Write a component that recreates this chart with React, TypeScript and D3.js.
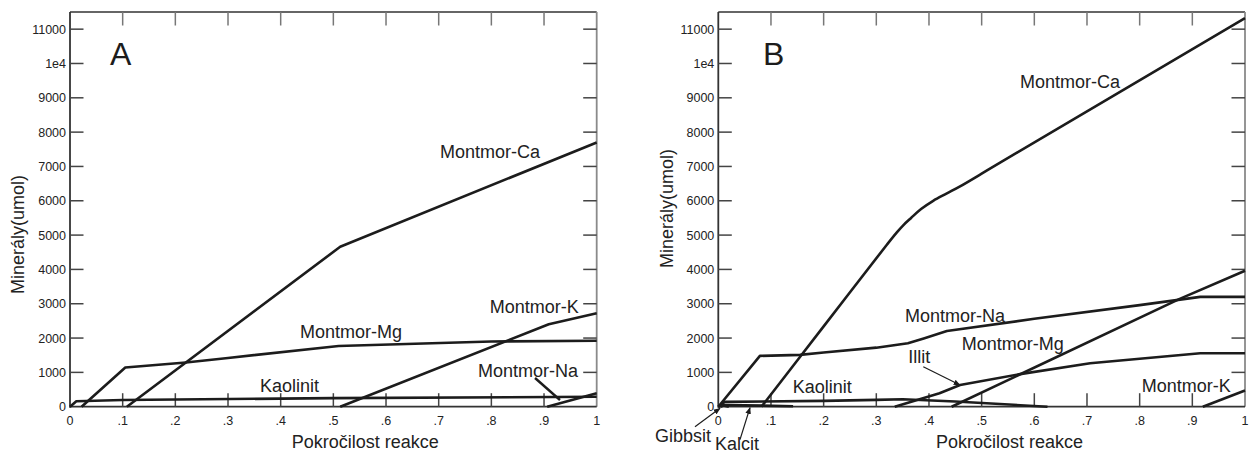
import React from "react";
import * as d3 from "d3";

type Pt = [number, number];

// ---- shared axis data ----
const xTickValues = [0, 0.1, 0.2, 0.3, 0.4, 0.5, 0.6, 0.7, 0.8, 0.9, 1];
const xTickLabels = ["0", ".1", ".2", ".3", ".4", ".5", ".6", ".7", ".8", ".9", "1"];
const yTickValues = [0, 1000, 2000, 3000, 4000, 5000, 6000, 7000, 8000, 9000, 10000, 11000];
const yTickLabels = ["0", "1000", "2000", "3000", "4000", "5000", "6000", "7000", "8000", "9000", "1e4", "11000"];
const xTitle = "Pokročilost reakce";
const yTitle = "Minerály(umol)";

// ---- panel A series (x = reaction progress, y = umol) ----
const aMontmorCa: Pt[] = [[0.108, 0], [0.513, 4660], [1, 7700]];
const aMontmorMg: Pt[] = [[0.022, 0], [0.105, 1140], [0.22, 1290], [0.3, 1420], [0.51, 1770], [0.8, 1900], [1, 1920]];
const aKaolinit: Pt[] = [[0, 0], [0.012, 160], [0.1, 195], [0.5, 250], [1, 290]];
const aMontmorK: Pt[] = [[0.513, 0], [0.909, 2400], [1, 2720]];
const aMontmorNa: Pt[] = [[0.906, 0], [1, 390]];

// ---- panel B series ----
const bMontmorCa: Pt[] = [[0.082, 0], [0.2, 2340], [0.32, 4720], [0.339, 5080], [0.352, 5300], [0.366, 5500], [0.385, 5760], [0.408, 6000], [0.434, 6215], [0.459, 6420], [0.5, 6790], [0.535, 7110], [1, 11320]];
const bMontmorNa: Pt[] = [[0, 0], [0.079, 1480], [0.155, 1510], [0.2, 1580], [0.3, 1720], [0.36, 1850], [0.39, 1990], [0.434, 2207], [0.6, 2560], [0.8, 2960], [0.915, 3200], [1, 3200]];
const bMontmorMg: Pt[] = [[0.443, 0], [0.876, 3140], [1, 3960]];
const bIllit: Pt[] = [[0.335, 0], [0.42, 390], [0.459, 630], [0.573, 950], [0.706, 1265], [0.915, 1556], [1, 1556]];
const bMontmorK: Pt[] = [[0.92, 0], [1, 470]];
const bKaolinit: Pt[] = [[0, 0], [0.012, 140], [0.2, 170], [0.3, 200], [0.35, 215], [0.45, 150], [0.625, 0]];
const bKalcit: Pt[] = [[0.004, 0], [0.012, 50], [0.142, 15]];
const bGibbsit: Pt[] = [[0, 0], [0.008, 40], [0.02, 0]];

// ---- labels: [text, x value, y value] ----
type Lbl = { text: string; x: number; y: number };
const aLabels: Lbl[] = [
  { text: "Montmor-Ca", x: 0.7025, y: 7247 },
  { text: "Montmor-Mg", x: 0.4367, y: 2002 },
  { text: "Montmor-K", x: 0.797, y: 2730 },
  { text: "Montmor-Na", x: 0.7746, y: 874 },
  { text: "Kaolinit", x: 0.3607, y: 437 },
];
const bLabels: Lbl[] = [
  { text: "Montmor-Ca", x: 0.5728, y: 9277 },
  { text: "Montmor-Na", x: 0.3545, y: 2477 },
  { text: "Montmor-Mg", x: 0.4621, y: 1652 },
  { text: "Illit", x: 0.3607, y: 1265 },
  { text: "Kaolinit", x: 0.1413, y: 385 },
  { text: "Montmor-K", x: 0.8039, y: 437 },
  { text: "Gibbsit", x: -0.1202, y: -1020 },
  { text: "Kalcit", x: -0.0063, y: -1260 },
];
type Ptr = { from: Pt; to: Pt; arrow: boolean };
const aPointers: Ptr[] = [{ from: [0.8829, 836], to: [0.9303, 195], arrow: false }];
const bPointers: Ptr[] = [
  { from: [0.3892, 1165], to: [0.4589, 630], arrow: true },
  { from: [-0.0443, -583], to: [0.0032, -47], arrow: true },
  { from: [0.0412, -960], to: [0.0602, -29], arrow: true },
];

const FONT = "'Liberation Sans', Arial, Helvetica, sans-serif";
const INK = "#1c1c1c";
const TXT = "#222";

type PanelProps = {
  left: number;
  right: number;
  letter: string;
  letterPos: Pt;
  series: Pt[][];
  smooth: boolean[];
  labels: Lbl[];
  pointers: Ptr[];
  yTitleCenter: number;
  yTitleX: number;
  xTitleStart: number;
  id: string;
};

const TOP = 12;
const BOTTOM = 406.7;

function Panel(p: PanelProps) {
  const x = d3.scaleLinear().domain([0, 1]).range([p.left, p.right]);
  const y = d3.scaleLinear().domain([0, 11500]).range([BOTTOM, TOP]);
  const lineFor = (smooth: boolean) =>
    d3
      .line<Pt>()
      .x((d) => x(d[0]))
      .y((d) => y(d[1]))
      .curve(smooth ? d3.curveCatmullRom.alpha(0.5) : d3.curveLinear);
  const tickLen = 13.5;
  return (
    <g fontFamily={FONT}>
      {/* frame */}
      <line x1={p.left} x2={p.right} y1={TOP} y2={TOP} stroke="#333" strokeWidth={1.5} />
      <line x1={p.right} x2={p.right} y1={TOP} y2={BOTTOM} stroke="#8a8a8a" strokeWidth={1.8} />
      <line x1={p.left} x2={p.left} y1={TOP} y2={BOTTOM + 1} stroke="#333" strokeWidth={1.8} />
      <line x1={p.left} x2={p.right} y1={BOTTOM} y2={BOTTOM} stroke="#333" strokeWidth={1.8} />
      {/* x ticks */}
      {xTickValues.map((v, i) => (
        <g key={"xt" + i}>
          {v > 0 && v < 1 && (
            <>
              <line x1={x(v)} x2={x(v)} y1={BOTTOM} y2={BOTTOM - tickLen} stroke="#444" strokeWidth={1.5} />
              <line x1={x(v)} x2={x(v)} y1={TOP} y2={TOP + tickLen} stroke="#777" strokeWidth={1.5} />
            </>
          )}
          <text x={x(v)} y={424.5} textAnchor="middle" fontSize={12.5} fill={TXT}>
            {xTickLabels[i]}
          </text>
        </g>
      ))}
      {/* y ticks */}
      {yTickValues.map((v, i) => (
        <g key={"yt" + i}>
          {v > 0 && (
            <>
              <line x1={p.left} x2={p.left + tickLen} y1={y(v)} y2={y(v)} stroke="#444" strokeWidth={1.5} />
              <line x1={p.right} x2={p.right - tickLen} y1={y(v)} y2={y(v)} stroke="#444" strokeWidth={1.5} />
            </>
          )}
          <text x={p.left - 4} y={y(v)} dy="0.36em" textAnchor="end" fontSize={12.5} fill={TXT}>
            {yTickLabels[i]}
          </text>
        </g>
      ))}
      {/* titles */}
      <text x={p.xTitleStart} y={448} fontSize={18} fill={TXT}>
        {xTitle}
      </text>
      <text
        transform={`translate(${p.yTitleX},${p.yTitleCenter}) rotate(-90)`}
        textAnchor="middle"
        fontSize={18}
        fill={TXT}
      >
        {yTitle}
      </text>
      <text x={x(p.letterPos[0])} y={y(p.letterPos[1])} fontSize={32} fill={INK}>
        {p.letter}
      </text>
      {/* series */}
      {p.series.map((s, i) => (
        <path
          key={"s" + i}
          d={lineFor(p.smooth[i])(s) || ""}
          fill="none"
          stroke={INK}
          strokeWidth={2.6}
          strokeLinejoin="round"
        />
      ))}
      {/* labels */}
      {p.labels.map((l, i) => (
        <text key={"l" + i} x={x(l.x)} y={y(l.y)} fontSize={18} fill={TXT}>
          {l.text}
        </text>
      ))}
      {p.pointers.map((pt, i) => (
        <line
          key={"p" + i}
          x1={x(pt.from[0])}
          y1={y(pt.from[1])}
          x2={x(pt.to[0])}
          y2={y(pt.to[1])}
          stroke={INK}
          strokeWidth={pt.arrow ? 1.2 : 2.4}
          markerEnd={pt.arrow ? `url(#arrow-${p.id})` : undefined}
        />
      ))}
    </g>
  );
}

export default function App() {
  return (
    <svg
      width={1252}
      height={455}
      viewBox="0 0 1252 455"
      style={{ position: "absolute", left: 0, top: 0, background: "#fff" }}
    >
      <defs>
        {["A", "B"].map((id) => (
          <marker
            key={id}
            id={`arrow-${id}`}
            viewBox="0 0 10 10"
            refX={9}
            refY={5}
            markerWidth={7}
            markerHeight={7}
            markerUnits="userSpaceOnUse"
            orient="auto"
          >
            <path d="M0,1 L10,5 L0,9 z" fill={INK} />
          </marker>
        ))}
      </defs>
      <rect x={0} y={0} width={1252} height={455} fill="#fff" />
      <Panel
        id="A"
        left={70}
        right={596.7}
        letter="A"
        letterPos={[0.076, 9955]}
        series={[aMontmorCa, aMontmorMg, aKaolinit, aMontmorK, aMontmorNa]}
        smooth={[false, false, false, false, false]}
        labels={aLabels}
        pointers={aPointers}
        yTitleCenter={234.5}
        yTitleX={24}
        xTitleStart={291.7}
      />
      <Panel
        id="B"
        left={718.3}
        right={1245}
        letter="B"
        letterPos={[0.0849, 9955]}
        series={[bMontmorCa, bMontmorNa, bMontmorMg, bIllit, bMontmorK, bKaolinit, bKalcit, bGibbsit]}
        smooth={[true, false, false, false, false, false, false, false]}
        labels={bLabels}
        pointers={bPointers}
        yTitleCenter={208.5}
        yTitleX={673}
        xTitleStart={936}
      />
    </svg>
  );
}
